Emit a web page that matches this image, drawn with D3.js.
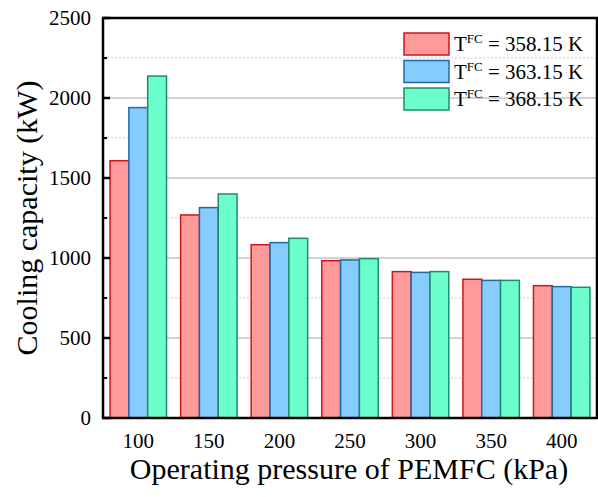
<!DOCTYPE html>
<html>
<head>
<meta charset="utf-8">
<script src="https://cdn.jsdelivr.net/npm/d3@7"></script>
<style>
  body { margin: 0; background: #fff; }
  text { font-family: "Times New Roman", "Liberation Serif", serif; fill: #000; }
</style>
</head>
<body>
<div id="chart"></div>
<script>
// values
var pressures = [100, 150, 200, 250, 300, 350, 400];
var cap358 = [1608, 1269, 1083, 983, 915, 867, 827];
var cap363 = [1940, 1315, 1096, 988, 910, 860, 821];
var cap368 = [2137, 1400, 1123, 996, 915, 860, 817];
var seriesNames = ["358.15", "363.15", "368.15"];
var yTicks = [0, 500, 1000, 1500, 2000, 2500];
var yMinor = [250, 750, 1250, 1750, 2250];

var series = [cap358, cap363, cap368];
var fills = ["#ff9a9a", "#86ccff", "#6cffcc"];
var strokes = ["#d0151b", "#1f6aa5", "#1e8c6c"];

var width = 598, height = 497;
var plot = {left: 103, right: 597, top: 18, bottom: 418};

var svg = d3.select("#chart")
    .append("svg")
    .attr("width", width)
    .attr("height", height);

var x = d3.scaleLinear().domain([75, 425]).range([plot.left, plot.right]);
var y = d3.scaleLinear().domain([0, 2500]).range([plot.bottom, plot.top]);

// bars inside each group take +-20 kPa around the tick
var sub = d3.scaleBand()
    .domain(d3.range(series.length))
    .range([0, x(120) - x(80)]);

// grid
svg.selectAll("line.minor")
    .data(yMinor)
    .enter()
    .append("line")
    .attr("x1", plot.left).attr("x2", plot.right)
    .attr("y1", function(d) { return y(d); })
    .attr("y2", function(d) { return y(d); })
    .style("stroke", "#c8c8c8")
    .style("stroke-width", 1)
    .style("stroke-dasharray", "2,2");

svg.selectAll("line.major")
    .data(yTicks.slice(1, -1))
    .enter()
    .append("line")
    .attr("x1", plot.left).attr("x2", plot.right)
    .attr("y1", function(d) { return y(d); })
    .attr("y2", function(d) { return y(d); })
    .style("stroke", "#a8a8a8")
    .style("stroke-width", 1.2);

// bars
series.forEach(function(vals, s) {
    svg.append("g")
        .selectAll("rect")
        .data(vals)
        .enter()
        .append("rect")
        .attr("x", function(d, i) { return x(pressures[i] - 20) + sub(s); })
        .attr("y", function(d) { return y(d); })
        .attr("width", sub.bandwidth())
        .attr("height", function(d) { return y(0) - y(d); })
        .style("fill", fills[s])
        .style("stroke", strokes[s])
        .style("stroke-width", 1.5);
});

// frame
svg.append("rect")
    .attr("x", plot.left).attr("y", plot.top)
    .attr("width", plot.right - plot.left).attr("height", plot.bottom - plot.top)
    .style("fill", "none")
    .style("stroke", "#000")
    .style("stroke-width", 2.5);

// y ticks (inward)
svg.selectAll("line.ytick")
    .data(yTicks)
    .enter()
    .append("line")
    .attr("x1", plot.left).attr("x2", plot.left + 7)
    .attr("y1", function(d) { return y(d); })
    .attr("y2", function(d) { return y(d); })
    .style("stroke", "#000")
    .style("stroke-width", 2.5);

svg.selectAll("line.ymtick")
    .data(yMinor)
    .enter()
    .append("line")
    .attr("x1", plot.left).attr("x2", plot.left + 4)
    .attr("y1", function(d) { return y(d); })
    .attr("y2", function(d) { return y(d); })
    .style("stroke", "#000")
    .style("stroke-width", 2);

svg.selectAll("text.ylab")
    .data(yTicks)
    .enter()
    .append("text")
    .attr("x", 91)
    .attr("y", function(d) { return y(d); })
    .attr("dy", "0.35em")
    .attr("text-anchor", "end")
    .attr("font-size", "21px")
    .text(function(d) { return d; });

svg.selectAll("text.xlab")
    .data(pressures)
    .enter()
    .append("text")
    .attr("x", function(d) { return x(d); })
    .attr("y", 448)
    .attr("text-anchor", "middle")
    .attr("font-size", "21px")
    .text(function(d) { return d; });

// axis titles
svg.append("text")
    .attr("x", (plot.left + plot.right) / 2 - 1)
    .attr("y", 479)
    .attr("text-anchor", "middle")
    .attr("font-size", "30px")
    .text("Operating pressure of PEMFC (kPa)");

svg.append("text")
    .attr("transform", "translate(37," + ((plot.top + plot.bottom) / 2) + ") rotate(-90)")
    .attr("text-anchor", "middle")
    .attr("font-size", "30px")
    .text("Cooling capacity (kW)");

// legend
var legend = svg.append("g");
seriesNames.forEach(function(name, s) {
    var ly = 33 + s * 27.5;
    legend.append("rect")
        .attr("x", 404).attr("y", ly)
        .attr("width", 45).attr("height", 22)
        .style("fill", fills[s])
        .style("stroke", strokes[s])
        .style("stroke-width", 1.5);
    var t = legend.append("text")
        .attr("x", 454)
        .attr("y", ly + 18)
        .attr("font-size", "21px");
    t.append("tspan").text("T");
    t.append("tspan")
        .attr("font-size", "13px")
        .attr("dy", "-8")
        .text("FC");
    t.append("tspan")
        .attr("dy", "8")
        .text(" = " + name + " K");
});
</script>
</body>
</html>
